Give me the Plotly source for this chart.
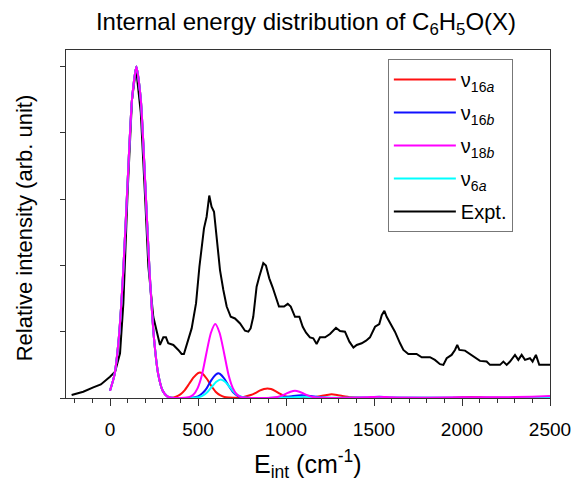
import plotly.graph_objects as go

# ---- data ----
expt_E = [-218, -152, -95, -52, 0, 29, 57, 76, 100, 125, 148, 175, 200, 218, 246, 275, 284, 303, 318, 331, 360, 388, 407,
          420, 435, 464, 489, 508, 534, 549, 564, 577, 591, 606, 625, 644, 663, 686, 710, 739, 767, 786, 799, 814,
          833, 848, 871, 886, 905, 924, 943, 960, 989, 1010, 1027, 1051, 1076, 1095, 1114, 1136, 1155, 1174, 1193,
          1222, 1250, 1284, 1307, 1335, 1360, 1383, 1402, 1430, 1455, 1477, 1506, 1530, 1544, 1559, 1572, 1591,
          1619, 1648, 1667, 1695, 1742, 1771, 1818, 1846, 1875, 1894, 1913, 1941, 1960, 1973, 1985, 2017, 2045,
          2074, 2102, 2140, 2159, 2216, 2235, 2254, 2273, 2301, 2320, 2339, 2358, 2386, 2401, 2420, 2439, 2500]
expt_I = [0.009, 0.019, 0.032, 0.041, 0.064, 0.079, 0.135, 0.286, 0.62, 0.90, 0.995, 0.86, 0.60, 0.396, 0.245,
          0.185, 0.16, 0.183, 0.183, 0.165, 0.16, 0.145, 0.133, 0.133, 0.16, 0.21, 0.286, 0.396, 0.512, 0.547,
          0.611, 0.577, 0.562, 0.477, 0.386, 0.326, 0.276, 0.245, 0.24, 0.225, 0.203, 0.2, 0.21, 0.245, 0.336,
          0.366, 0.407, 0.40, 0.361, 0.334, 0.301, 0.276, 0.276, 0.284, 0.276, 0.245, 0.245, 0.215, 0.197, 0.183,
          0.18, 0.163, 0.183, 0.183, 0.193, 0.212, 0.202, 0.2, 0.17, 0.152, 0.16, 0.165, 0.173, 0.183, 0.215,
          0.223, 0.25, 0.263, 0.245, 0.228, 0.2, 0.165, 0.145, 0.133, 0.133, 0.123, 0.123, 0.115, 0.102, 0.10,
          0.12, 0.13, 0.145, 0.16, 0.145, 0.143, 0.133, 0.12, 0.112, 0.11, 0.10, 0.10, 0.11, 0.10, 0.11, 0.13,
          0.115, 0.13, 0.115, 0.12, 0.11, 0.13, 0.10, 0.10]

origin_E = [0, 25, 50, 75, 100, 125, 150, 175, 200, 225, 250, 275, 300, 325, 350]
origin_I = [0.022, 0.069, 0.18, 0.38, 0.65, 0.90, 1.0, 0.90, 0.65, 0.38, 0.18, 0.069, 0.021, 0.005, 0.001]

v16a_E = origin_E + [375, 400, 425, 450, 475, 500, 511, 525, 550, 575, 600, 625, 650, 675, 700, 725, 750, 775, 800,
                     825, 850, 875, 894, 915, 940, 965, 990, 1015, 1040, 1070, 1100, 1150, 1200, 1230, 1259, 1290,
                     1320, 1370, 1420, 1500, 1950, 2000, 2050, 2100, 2150, 2500]
v16a_I = origin_I + [0.004, 0.011, 0.024, 0.043, 0.062, 0.075, 0.077, 0.074, 0.058, 0.037, 0.019, 0.0085, 0.003,
                     0.0012, 0.0008, 0.001, 0.002, 0.005, 0.009, 0.015, 0.022, 0.027, 0.029, 0.027, 0.021, 0.013,
                     0.006, 0.0025, 0.001, 0.0008, 0.001, 0.002, 0.006, 0.009, 0.011, 0.009, 0.006, 0.002, 0.0005,
                     0.0003, 0.0005, 0.002, 0.003, 0.002, 0.0005, 0.0003]

v16b_E = origin_E + [400, 450, 475, 500, 525, 550, 575, 600, 614, 625, 650, 675, 700, 725, 750, 775, 800, 850, 950,
                     1000, 1040, 1089, 1140, 1180, 1230, 1300, 1500, 1550, 1600, 2500]
v16b_I = origin_I + [0.0, 0.0005, 0.0015, 0.005, 0.014, 0.03, 0.053, 0.07, 0.075, 0.073, 0.058, 0.036, 0.017,
                     0.0065, 0.002, 0.0005, 0.0002, 0.0003, 0.001, 0.003, 0.006, 0.008, 0.006, 0.003, 0.001,
                     0.0003, 0.001, 0.002, 0.001, 0.0003]

v18b_E = origin_E + [375, 400, 423, 448, 473, 498, 523, 548, 573, 598, 623, 648, 673, 698, 723, 748, 773, 800, 900,
                     951, 976, 1001, 1026, 1051, 1076, 1101, 1126, 1151, 1200, 1300, 1450, 1530, 1600, 1800, 2000,
                     2200, 2400, 2500]
v18b_I = origin_I + [0.0, 0.0, 0.0004, 0.0025, 0.0098, 0.030, 0.071, 0.136, 0.196, 0.223, 0.196, 0.136, 0.071,
                     0.030, 0.0098, 0.0025, 0.0004, 0.0, 0.0003, 0.003, 0.007, 0.013, 0.019, 0.022, 0.019, 0.013,
                     0.007, 0.003, 0.0005, 0.0003, 0.002, 0.004, 0.002, 0.001, 0.002, 0.002, 0.004, 0.006]

v6a_E = origin_E + [400, 454, 479, 504, 529, 554, 579, 604, 629, 654, 679, 704, 729, 754, 779, 804, 900, 1050,
                    1100, 1150, 1300, 1480, 1530, 1580, 1700, 2500]
v6a_I = origin_I + [0.0, 0.0001, 0.0006, 0.0025, 0.0076, 0.018, 0.034, 0.049, 0.056, 0.049, 0.034, 0.018, 0.0076,
                    0.0025, 0.0006, 0.0001, 0.0003, 0.002, 0.004, 0.002, 0.0005, 0.002, 0.004, 0.002, 0.0005, 0.0003]

x_ticks = [0, 500, 1000, 1500, 2000, 2500]
y_ticks = [0, 0.2, 0.4, 0.6, 0.8, 1.0]

series = [  # (name, color, x, y)
    ("ν<sub>16<i>a</i></sub>", "#ff1010", v16a_E, v16a_I),
    ("ν<sub>16<i>b</i></sub>", "#1010ff", v16b_E, v16b_I),
    ("ν<sub>18<i>b</i></sub>", "#ff00ff", v18b_E, v18b_I),
    ("ν<sub>6<i>a</i></sub>", "#00ffff", v6a_E, v6a_I),
]

fig = go.Figure()
# drawn marks (draw order: experiment below, magenta on top)
fig.add_trace(go.Scatter(x=expt_E, y=expt_I, mode="lines", showlegend=False,
                         line=dict(color="black", width=2)))
for idx in [0, 1, 3, 2]:
    name, color, xs, ys = series[idx]
    fig.add_trace(go.Scatter(x=xs, y=ys, mode="lines", showlegend=False,
                             line=dict(color=color, width=2, shape="spline", smoothing=0.6)))
# legend entries in the reference order
for i, (name, color, xs, ys) in enumerate(series):
    fig.add_trace(go.Scatter(x=[None], y=[None], mode="lines", name=name, legendgroup=f"g{i}",
                             line=dict(color=color, width=2)))
fig.add_trace(go.Scatter(x=[None], y=[None], mode="lines", name="Expt.", legendgroup="g5",
                         line=dict(color="black", width=2)))

fig.update_layout(
    width=572, height=484,
    margin=dict(l=66, r=22, t=50, b=86, autoexpand=False),
    paper_bgcolor="white", plot_bgcolor="white",
    font=dict(family="Liberation Sans, Arial, sans-serif", color="black"),
    title=dict(text="Internal energy distribution of C<sub>6</sub>H<sub>5</sub>O(X)",
               x=0.535, xanchor="center", y=0.955, yanchor="middle", font=dict(size=24)),
    showlegend=True,
    legend=dict(x=0.665, y=0.974, xanchor="left", yanchor="top",
                bordercolor="#777777", borderwidth=1, bgcolor="white",
                font=dict(size=20), itemwidth=62, traceorder="grouped", tracegroupgap=4),
    annotations=[
        dict(text="E<sub>int</sub> (cm<sup>-1</sup>)", xref="paper", yref="paper",
             x=0.5, y=-0.19, xanchor="center", yanchor="middle", showarrow=False, font=dict(size=25)),
        dict(text="Relative intensity (arb. unit)", xref="paper", yref="paper", textangle=-90,
             x=-0.085, y=0.49, xanchor="center", yanchor="middle", showarrow=False, font=dict(size=22)),
    ],
)
fig.update_xaxes(range=[-250, 2500], tickvals=x_ticks, ticks="outside", ticklen=7, tickwidth=1,
                 tickcolor="#333", showline=True, linecolor="#333", linewidth=1, mirror=True,
                 showgrid=False, zeroline=False, tickfont=dict(size=19), automargin=False,
                 ticklabelstandoff=7,
                 minor=dict(dtick=100, tick0=0, ticks="outside", ticklen=4, tickcolor="#333", showgrid=False))
fig.update_yaxes(range=[0, 1.05], tickvals=y_ticks, showticklabels=False, ticks="outside", ticklen=5,
                 tickcolor="#333", showline=True, linecolor="#333", linewidth=1, mirror=True,
                 showgrid=False, zeroline=False, automargin=False)

fig.write_html("out.html", config={"displayModeBar": False},
               post_script="document.body.style.margin='0';")
